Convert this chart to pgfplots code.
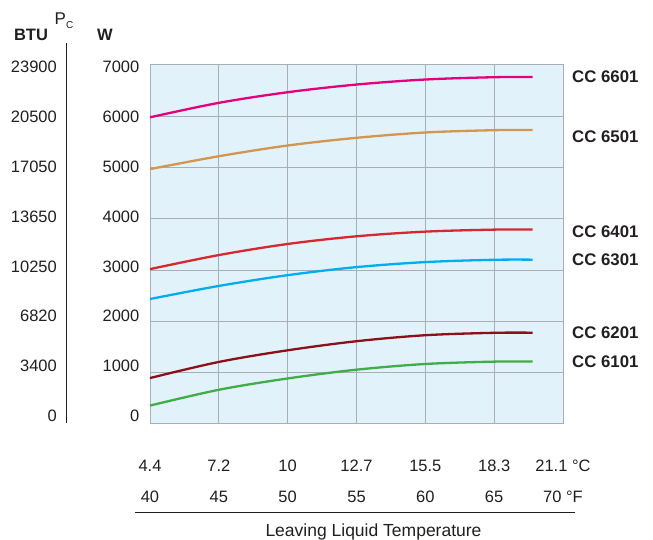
\documentclass[border=0pt]{standalone}
\usepackage{pgfplots}
\pgfplotsset{compat=1.18}
\usepackage{fontspec}
\setmainfont{Liberation Sans}
\definecolor{cpink}{HTML}{E5007D}
\definecolor{ctan}{HTML}{D39650}
\definecolor{cred}{HTML}{D7282F}
\definecolor{cblue}{HTML}{00AEEF}
\definecolor{cdred}{HTML}{8C1019}
\definecolor{cgreen}{HTML}{40AD48}
\definecolor{bgblue}{HTML}{E1F2FA}
\definecolor{gridgray}{HTML}{A8AEB3}
\definecolor{txt}{HTML}{231F20}
\begin{document}
\begin{tikzpicture}[x=1pt,y=1pt]
\useasboundingbox (0,0) rectangle (653,540);
\fontsize{16.5}{19}\selectfont
% main axis
\begin{axis}[
  at={(150pt,116pt)}, anchor=south west,
  scale only axis, width=413pt, height=359pt,
  xmin=40, xmax=70, ymin=0, ymax=7000,
  xtick={40,45,...,70}, ytick={0,1000,...,7000},
  xticklabels={4.4,7.2,10,12.7,15.5,18.3,21.1 °C},
  yticklabels={},
  xticklabel style={anchor=center, yshift=-42pt, font=\fontsize{16.5}{19}\selectfont, text=txt},
  major tick length=0pt,
  grid=major,
  grid style={gridgray, line width=1pt},
  axis line style={gridgray, line width=1pt},
  axis background/.style={fill=bgblue},
  clip=false,
  every axis plot/.append style={line width=2.3pt, smooth, tension=0.55, no marks},
]
\addplot[cpink] coordinates {(40,5980) (45,6262) (50,6469) (55,6619) (60,6717) (65,6762) (67.8,6765)};
\addplot[ctan] coordinates {(40,4970) (45,5221) (50,5430) (55,5580) (60,5684) (65,5729) (67.8,5732)};
\addplot[cred] coordinates {(40,3020) (45,3294) (50,3510) (55,3660) (60,3751) (65,3790) (67.8,3792)};
\addplot[cblue] coordinates {(40,2437) (45,2692) (50,2902) (55,3059) (60,3157) (65,3202) (67.8,3204)};
\addplot[cdred] coordinates {(40,896) (45,1210) (50,1437) (55,1614) (60,1731) (65,1778) (67.8,1780)};
\addplot[cgreen] coordinates {(40,359) (45,667) (50,888) (55,1059) (60,1170) (65,1216) (67.8,1218)};
\begin{scope}[every node/.style={anchor=west, inner sep=0pt, xshift=9pt, font=\fontsize{16.8}{19}\selectfont\bfseries, text=txt}]
\node at (axis cs:70,6765) {CC 6601};
\node at (axis cs:70,5600) {CC 6501};
\node at (axis cs:70,3750) {CC 6401};
\node at (axis cs:70,3200) {CC 6301};
\node at (axis cs:70,1780) {CC 6201};
\node at (axis cs:70,1218) {CC 6101};
\end{scope}
\end{axis}
% overlay axis: W labels and °F row
\begin{axis}[
  at={(150pt,116pt)}, anchor=south west,
  scale only axis, width=413pt, height=359pt,
  xmin=40, xmax=70, ymin=-161, ymax=7040,
  xtick={40,45,...,70}, ytick={0,1000,...,7000},
  xticklabels={40,45,50,55,60,65,70 °F},
  yticklabels={0,1000,2000,3000,4000,5000,6000,7000},
  xticklabel style={anchor=center, yshift=-73pt, font=\fontsize{16.5}{19}\selectfont, text=txt},
  yticklabel style={anchor=east, inner sep=0pt, xshift=-10.5pt, font=\fontsize{16.5}{19}\selectfont, text=txt},
  major tick length=0pt,
  axis line style={draw=none},
]
\end{axis}
% overlay axis: BTU labels
\begin{axis}[
  at={(150pt,116pt)}, anchor=south west,
  scale only axis, width=413pt, height=359pt,
  xmin=40, xmax=70, ymin=-161, ymax=7040,
  hide x axis,
  ytick={0,1000,...,7000},
  yticklabels={0,3400,6820,10250,13650,17050,20500,23900},
  yticklabel style={anchor=east, inner sep=0pt, xshift=-93pt, font=\fontsize{16.5}{19}\selectfont, text=txt},
  major tick length=0pt,
  axis line style={draw=none},
]
\end{axis}
% header and decorations
\draw[txt, line width=0.9pt] (66,497) -- (66,117);
\node[text=txt, font=\fontsize{16.5}{19}\selectfont\bfseries] at (31,505) {BTU};
\node[text=txt, font=\fontsize{17}{19}\selectfont, anchor=base west, inner sep=0pt] at (54.5,515.5) {P\raisebox{-0.4ex}{\fontsize{10}{11}\selectfont C}};
\node[text=txt, font=\fontsize{16.5}{19}\selectfont\bfseries] at (105,505) {W};
\draw[txt, line width=1pt] (135,27) -- (575,27);
\node[text=txt, font=\fontsize{17.5}{20}\selectfont] at (373.5,8) {Leaving Liquid Temperature};
\end{tikzpicture}
\end{document}
